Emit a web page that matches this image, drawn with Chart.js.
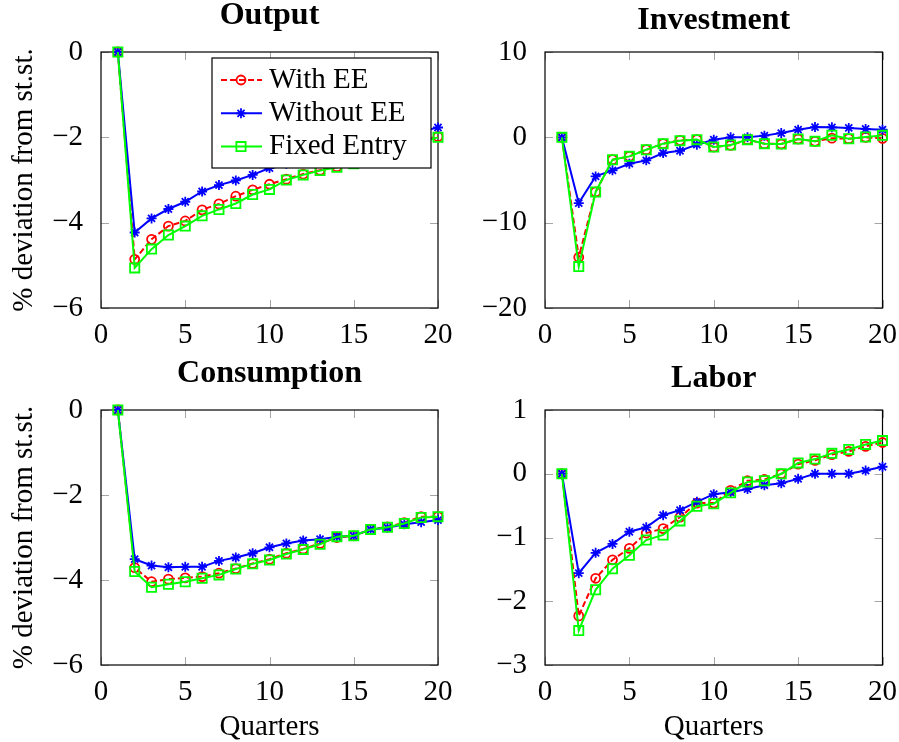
<!DOCTYPE html>
<html>
<head>
<meta charset="utf-8">
<script src="https://cdn.jsdelivr.net/npm/chart.js@4"></script>
<style>
  body { margin: 0; background: #fff; }
  #wrap { position: relative; width: 899px; height: 742px; overflow: hidden; }
  #wrap canvas { position: absolute; }
</style>
</head>
<body>
<div id="wrap">
  <canvas id="outputChart" width="462" height="345" style="left:0;top:0"></canvas>
  <canvas id="investmentChart" width="449" height="345" style="left:450px;top:0"></canvas>
  <canvas id="consumptionChart" width="462" height="397" style="left:0;top:345px"></canvas>
  <canvas id="laborChart" width="449" height="397" style="left:450px;top:345px"></canvas>
</div>
<script>
const quarters = [1, 2, 3, 4, 5, 6, 7, 8, 9, 10, 11, 12, 13, 14, 15, 16, 17, 18, 19, 20];
const seriesNames = ["With EE", "Without EE", "Fixed Entry"];

const outputWithEE = [0, -4.86, -4.39, -4.08, -3.96, -3.70, -3.56, -3.38, -3.23, -3.10, -2.98, -2.86, -2.77, -2.69, -2.60, -2.48, -2.36, -2.22, -2.10, -1.98];
const outputWithoutEE = [0, -4.23, -3.90, -3.68, -3.51, -3.27, -3.12, -3.01, -2.88, -2.72, -2.62, -2.52, -2.42, -2.33, -2.22, -2.13, -2.03, -1.94, -1.86, -1.77];
const outputFixed = [0, -5.06, -4.62, -4.29, -4.08, -3.84, -3.69, -3.55, -3.34, -3.22, -3.00, -2.88, -2.78, -2.70, -2.62, -2.50, -2.38, -2.25, -2.12, -2.00];

const investWithEE = [0, -14.05, -6.4, -2.62, -2.23, -1.45, -0.74, -0.35, -0.27, -1.13, -0.94, -0.27, -0.74, -0.78, -0.2, -0.47, -0.1, -0.16, 0, -0.12];
const investWithoutEE = [0, -7.7, -4.58, -3.87, -3.09, -2.70, -1.84, -1.57, -0.86, -0.27, 0, 0, 0.2, 0.5, 0.9, 1.2, 1.17, 1.1, 0.98, 0.9];
const investFixed = [0, -15.15, -6.4, -2.62, -2.23, -1.45, -0.74, -0.39, -0.27, -1.13, -0.9, -0.27, -0.74, -0.78, -0.2, -0.47, 0.25, -0.16, 0.04, 0.23];

const consWithEE = [0, -3.71, -4.04, -3.98, -3.95, -3.92, -3.84, -3.73, -3.61, -3.51, -3.37, -3.27, -3.14, -3.00, -2.96, -2.81, -2.75, -2.65, -2.51, -2.51];
const consWithoutEE = [0, -3.51, -3.66, -3.70, -3.69, -3.69, -3.55, -3.47, -3.37, -3.23, -3.14, -3.07, -3.04, -2.98, -2.96, -2.81, -2.77, -2.69, -2.64, -2.59];
const consFixed = [0, -3.80, -4.17, -4.10, -4.04, -3.96, -3.88, -3.74, -3.62, -3.53, -3.39, -3.28, -3.16, -2.98, -2.96, -2.81, -2.76, -2.67, -2.53, -2.51];

const laborWithEE = [0, -2.23, -1.64, -1.35, -1.17, -0.93, -0.86, -0.68, -0.46, -0.46, -0.26, -0.11, -0.09, 0, 0.15, 0.21, 0.30, 0.35, 0.43, 0.49];
const laborWithoutEE = [0, -1.56, -1.24, -1.10, -0.91, -0.84, -0.65, -0.57, -0.44, -0.32, -0.29, -0.24, -0.18, -0.15, -0.08, 0, 0, 0, 0.05, 0.11];
const laborFixed = [0, -2.46, -1.82, -1.49, -1.28, -1.04, -0.96, -0.74, -0.51, -0.47, -0.30, -0.13, -0.11, 0, 0.17, 0.23, 0.32, 0.38, 0.46, 0.52];

const FONT = '"Liberation Serif", "Times New Roman", serif';
Chart.defaults.font.family = FONT;
Chart.defaults.color = "#000";

// pgfplots-style frame with small grey tick marks inside the axis box
const frameTicks = {
    id: "frameTicks",
    beforeDatasetsDraw(chart) {
        const ctx = chart.ctx;
        const a = chart.chartArea;
        const xs = chart.scales.x, ys = chart.scales.y;
        ctx.save();
        ctx.strokeStyle = "#a6a6a6";
        ctx.lineWidth = 1;
        ctx.beginPath();
        xs.ticks.forEach(t => {
            const px = Math.round(xs.getPixelForValue(t.value)) + 0.5;
            ctx.moveTo(px, a.bottom); ctx.lineTo(px, a.bottom - 8);
            ctx.moveTo(px, a.top); ctx.lineTo(px, a.top + 8);
        });
        ys.ticks.forEach(t => {
            const py = Math.round(ys.getPixelForValue(t.value)) + 0.5;
            ctx.moveTo(a.left, py); ctx.lineTo(a.left + 8, py);
            ctx.moveTo(a.right, py); ctx.lineTo(a.right - 8, py);
        });
        ctx.stroke();
        ctx.strokeStyle = "#000";
        ctx.lineWidth = 1.2;
        ctx.strokeRect(a.left, a.top, a.right - a.left, a.bottom - a.top);
        ctx.restore();
    }
};

// panel title centred over the plot box, not the whole canvas
const panelTitle = {
    id: "panelTitle",
    afterDraw(chart, args, opts) {
        const ctx = chart.ctx;
        const a = chart.chartArea;
        ctx.save();
        ctx.fillStyle = "#000";
        ctx.font = "bold 32px " + FONT;
        ctx.textAlign = "center";
        ctx.textBaseline = "middle";
        ctx.fillText(opts.text, (a.left + a.right) / 2, opts.y);
        ctx.restore();
    }
};

// boxed legend inside the Output panel
const boxLegend = {
    id: "boxLegend",
    afterDatasetsDraw(chart) {
        const ctx = chart.ctx;
        const x0 = 212, y0 = 58, w = 219, h = 110;
        ctx.save();
        ctx.fillStyle = "#fff";
        ctx.fillRect(x0, y0, w, h);
        ctx.strokeStyle = "#000";
        ctx.lineWidth = 1.2;
        ctx.strokeRect(x0, y0, w, h);
        chart.data.datasets.forEach((ds, i) => {
            const cy = 80 + i * 33.3;
            ctx.strokeStyle = ds.borderColor;
            ctx.lineWidth = ds.borderWidth;
            ctx.setLineDash(ds.borderDash || []);
            ctx.beginPath();
            ctx.moveTo(221, cy);
            ctx.lineTo(262, cy);
            ctx.stroke();
            ctx.setLineDash([]);
            ctx.fillStyle = "rgba(0,0,0,0)";
            ctx.lineWidth = ds.pointBorderWidth;
            Chart.helpers.drawPoint(ctx, {
                pointStyle: ds.pointStyle, radius: ds.pointRadius,
                borderWidth: ds.pointBorderWidth, rotation: 0
            }, 241, cy);
            ctx.fillStyle = "#000";
            ctx.font = "29px " + FONT;
            ctx.textBaseline = "middle";
            ctx.textAlign = "left";
            ctx.fillText(ds.label, 269, cy);
        });
        ctx.restore();
    }
};

function buildSets(withEE, withoutEE, fixed) {
    const common = {
        borderWidth: 2, pointBorderWidth: 1.8, tension: 0, clip: false,
        backgroundColor: "rgba(0,0,0,0)", pointBackgroundColor: "rgba(0,0,0,0)"
    };
    return [
        Object.assign({}, common, {
            label: seriesNames[0], order: 2,
            data: quarters.map((q, i) => ({x: q, y: withEE[i]})),
            borderColor: "#ff0000", pointBorderColor: "#ff0000", borderDash: [6, 3],
            pointStyle: "circle", pointRadius: 4.5
        }),
        Object.assign({}, common, {
            label: seriesNames[1], order: 1,
            data: quarters.map((q, i) => ({x: q, y: withoutEE[i]})),
            borderColor: "#0000ff", pointBorderColor: "#0000ff",
            pointStyle: "star", pointRadius: 5
        }),
        Object.assign({}, common, {
            label: seriesNames[2], order: 0,
            data: quarters.map((q, i) => ({x: q, y: fixed[i]})),
            borderColor: "#00ff00", pointBorderColor: "#00ff00",
            pointStyle: "rect", pointRadius: 6.5
        })
    ];
}

function makeChart(id, o) {
    const ctx = document.getElementById(id).getContext("2d");
    new Chart(ctx, {
        type: "line",
        data: {datasets: o.sets},
        options: {
            responsive: false,
            animation: false,
            events: [],
            layout: {padding: {left: 0, right: o.padRight, top: o.padTop, bottom: 0}, autoPadding: false},
            plugins: {
                legend: {display: false},
                tooltip: {enabled: false},
                title: {display: false},
                panelTitle: {text: o.title, y: o.titleY}
            },
            scales: {
                x: {
                    type: "linear", min: 0, max: 20,
                    grid: {display: false}, border: {display: false},
                    ticks: {stepSize: 5, padding: 2, font: {size: 29, lineHeight: 1.2}},
                    title: {display: o.xTitle, text: "Quarters", font: {size: 29, lineHeight: 1}, padding: {top: 0, bottom: 0}},
                    afterFit: s => { s.height = o.xHeight; }
                },
                y: {
                    min: o.yMin, max: o.yMax,
                    grid: {display: false}, border: {display: false},
                    ticks: {
                        stepSize: o.yStep, padding: 10, font: {size: 29},
                        callback: v => String(v).replace("-", "\u2212")
                    },
                    title: {display: o.yTitle, text: "% deviation from st.st.", font: {size: 29, lineHeight: 1}, padding: {top: 10, bottom: 0}},
                    afterFit: s => { s.width = o.yWidth; }
                }
            }
        },
        plugins: o.legend ? [frameTicks, boxLegend, panelTitle] : [frameTicks, panelTitle]
    });
}

makeChart("outputChart", {
    title: "Output", sets: buildSets(outputWithEE, outputWithoutEE, outputFixed),
    titleY: 16, padTop: 52, padRight: 24, xHeight: 37, yWidth: 101,
    yMin: -6, yMax: 0, yStep: 2, xTitle: false, yTitle: true, legend: true
});
makeChart("investmentChart", {
    title: "Investment", sets: buildSets(investWithEE, investWithoutEE, investFixed),
    titleY: 21, padTop: 52, padRight: 16, xHeight: 37, yWidth: 95,
    yMin: -20, yMax: 10, yStep: 10, xTitle: false, yTitle: false, legend: false
});
makeChart("consumptionChart", {
    title: "Consumption", sets: buildSets(consWithEE, consWithoutEE, consFixed),
    titleY: 29, padTop: 65, padRight: 24, xHeight: 77, yWidth: 101,
    yMin: -6, yMax: 0, yStep: 2, xTitle: true, yTitle: true, legend: false
});
makeChart("laborChart", {
    title: "Labor", sets: buildSets(laborWithEE, laborWithoutEE, laborFixed),
    titleY: 34, padTop: 65, padRight: 16, xHeight: 77, yWidth: 95,
    yMin: -3, yMax: 1, yStep: 1, xTitle: true, yTitle: false, legend: false
});
</script>
</body>
</html>
